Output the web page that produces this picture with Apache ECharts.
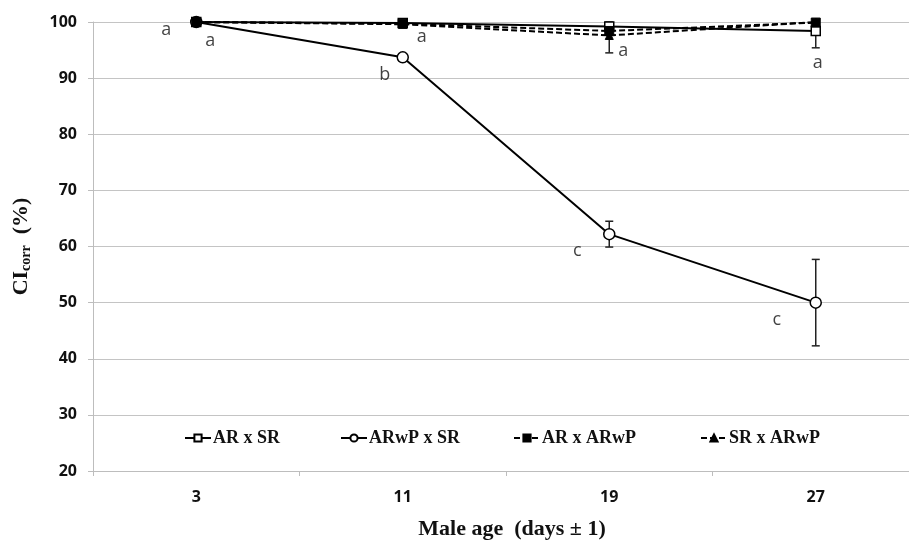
<!DOCTYPE html>
<html>
<head>
<meta charset="utf-8">
<script src="https://cdn.jsdelivr.net/npm/echarts@6/dist/echarts.min.js"></script>
<style>
html,body{margin:0;padding:0;background:#fff;overflow:hidden;width:909px;height:545px;}
#chart{width:919px;height:545px;}
</style>
</head>
<body>
<div id="chart"></div>
<script>
// ---- data ----
const categories = ['3', '11', '19', '27'];
const seriesNames = ['AR x SR', 'ARwP x SR', 'AR x ARwP', 'SR x ARwP'];
const arSr = [100, 99.8, 99.2, 98.4];
const arSrSd = [0, 0, 0, 3.0];
const arwpSr = [100, 93.7, 62.2, 50.0];
const arwpSrSd = [0, 0, 2.3, 7.7];
const arArwp = [100, 99.7, 98.4, 99.9];
const arArwpSd = [0, 0, 0, 0];
const srArwp = [100, 99.6, 97.6, 100];
const srArwpSd = [0, 0, 3.1, 0];
const lettersHigh = ['a', 'a', 'a', 'a'];     // groups near 100 %
const lettersArwpSr = ['a', 'b', 'c', 'c'];   // ARwP x SR
const yMin = 20, yMax = 100, yStep = 10;

// layout (pixel offsets / positions, not data)
const highOffsets = [[14, 19], [19, 14], [14, 24], [2, 32]];
const arwpOffsets = [[-30, 8], [-18, 18], [-32, 17], [-39, 17]];
const legendLefts = [184, 340, 513, 700];

function errData(mean, sd) {
  const out = [];
  mean.forEach((m, i) => {
    if (sd[i] > 0) out.push([i, Math.max(yMin, m - sd[i]), Math.min(yMax, m + sd[i])]);
  });
  return out;
}
const errAll = [].concat(errData(arSr, arSrSd), errData(arwpSr, arwpSrSd),
                         errData(arArwp, arArwpSd), errData(srArwp, srArwpSd));

function letterData(mean, letters, offsets) {
  return mean.map((m, i) => ({
    value: [i, m],
    label: { formatter: letters[i], offset: offsets[i] }
  }));
}

const legends = seriesNames.map((n, i) => ({
  left: legendLefts[i], top: 429, padding: 0, itemWidth: 26, itemHeight: 9, itemGap: 4,
  textStyle: { fontFamily: 'Liberation Serif', fontWeight: 'bold', fontSize: 18, color: '#111', padding: [0, 0, 0, -3] },
  data: [n]
}));

const chart = echarts.init(document.getElementById('chart'));
const lineCommon = { color: '#000', width: 2 };
const option = {
  animation: false,
  backgroundColor: '#fff',
  grid: { left: 93, right: 0, top: 22, bottom: 73, containLabel: false },
  legend: legends,
  xAxis: {
    type: 'category', data: categories, boundaryGap: true,
    axisLine: { lineStyle: { color: '#bdbdbd', width: 1 } },
    axisTick: { show: true, length: 5, lineStyle: { color: '#bdbdbd' } },
    axisLabel: { margin: 18, fontFamily: 'Open Sans', fontWeight: 'bold', fontSize: 16, color: '#111' },
    name: 'Male age  (days \u00b1 1)', nameLocation: 'middle', nameGap: 47,
    nameTextStyle: { fontFamily: 'Liberation Serif', fontWeight: 'bold', fontSize: 22, color: '#111', padding: [0, 0, 0, 12] }
  },
  yAxis: {
    type: 'value', min: yMin, max: yMax, interval: yStep,
    axisLine: { show: true, lineStyle: { color: '#bdbdbd', width: 1 } },
    axisTick: { show: true, length: 5, lineStyle: { color: '#bdbdbd' } },
    splitLine: { lineStyle: { color: '#c4c4c4', width: 1 } },
    axisLabel: { margin: 16, fontFamily: 'Open Sans', fontWeight: 'bold', fontSize: 16, color: '#111' },
    name: '{a|CI}{b|corr}{a|  (%)}', nameLocation: 'middle', nameGap: 60, nameRotate: 90,
    nameTextStyle: {
      rich: {
        a: { fontFamily: 'Liberation Serif', fontWeight: 'bold', fontSize: 22, color: '#111' },
        b: { fontFamily: 'Liberation Serif', fontWeight: 'bold', fontSize: 14, color: '#111', padding: [10, 0, 0, 0] }
      }
    }
  },
  series: [
    {
      name: 'errors', type: 'custom', z: 1, silent: true, data: errAll,
      renderItem: function (params, api) {
        const x = api.value(0);
        const lo = api.coord([x, api.value(1)]);
        const hi = api.coord([x, api.value(2)]);
        const c = 4;
        const st = { stroke: '#222', lineWidth: 1.5 };
        return { type: 'group', children: [
          { type: 'line', shape: { x1: lo[0], y1: lo[1], x2: hi[0], y2: hi[1] }, style: st },
          { type: 'line', shape: { x1: lo[0] - c, y1: lo[1], x2: lo[0] + c, y2: lo[1] }, style: st },
          { type: 'line', shape: { x1: hi[0] - c, y1: hi[1], x2: hi[0] + c, y2: hi[1] }, style: st }
        ] };
      }
    },
    {
      name: seriesNames[0], type: 'line', data: arSr, z: 3,
      symbol: 'rect', symbolSize: 9,
      lineStyle: lineCommon,
      itemStyle: { color: '#fff', borderColor: '#000', borderWidth: 1.5 }
    },
    {
      name: seriesNames[1], type: 'line', data: arwpSr, z: 3,
      symbol: 'circle', symbolSize: 11,
      lineStyle: lineCommon,
      itemStyle: { color: '#fff', borderColor: '#000', borderWidth: 1.5 }
    },
    {
      name: seriesNames[2], type: 'line', data: arArwp, z: 4,
      symbol: 'rect', symbolSize: 9,
      lineStyle: { color: '#000', width: 2, type: [6, 3] },
      itemStyle: { color: '#000', borderColor: '#000', borderWidth: 1 }
    },
    {
      name: seriesNames[3], type: 'line', data: srArwp, z: 4,
      symbol: 'triangle', symbolSize: 8,
      lineStyle: { color: '#000', width: 2, type: [6, 3] },
      itemStyle: { color: '#000', borderColor: '#000', borderWidth: 1 }
    },
    {
      name: 'lettersHigh', type: 'scatter', symbolSize: 0, silent: true, z: 5,
      data: letterData(arSr, lettersHigh, highOffsets),
      label: { show: true, position: 'inside', fontFamily: 'Open Sans', fontSize: 18, color: '#111' }
    },
    {
      name: 'lettersArwp', type: 'scatter', symbolSize: 0, silent: true, z: 5,
      data: letterData(arwpSr, lettersArwpSr, arwpOffsets),
      label: { show: true, position: 'inside', fontFamily: 'Open Sans', fontSize: 18, color: '#111' }
    }
  ]
};
chart.setOption(option);
</script>
</body>
</html>
